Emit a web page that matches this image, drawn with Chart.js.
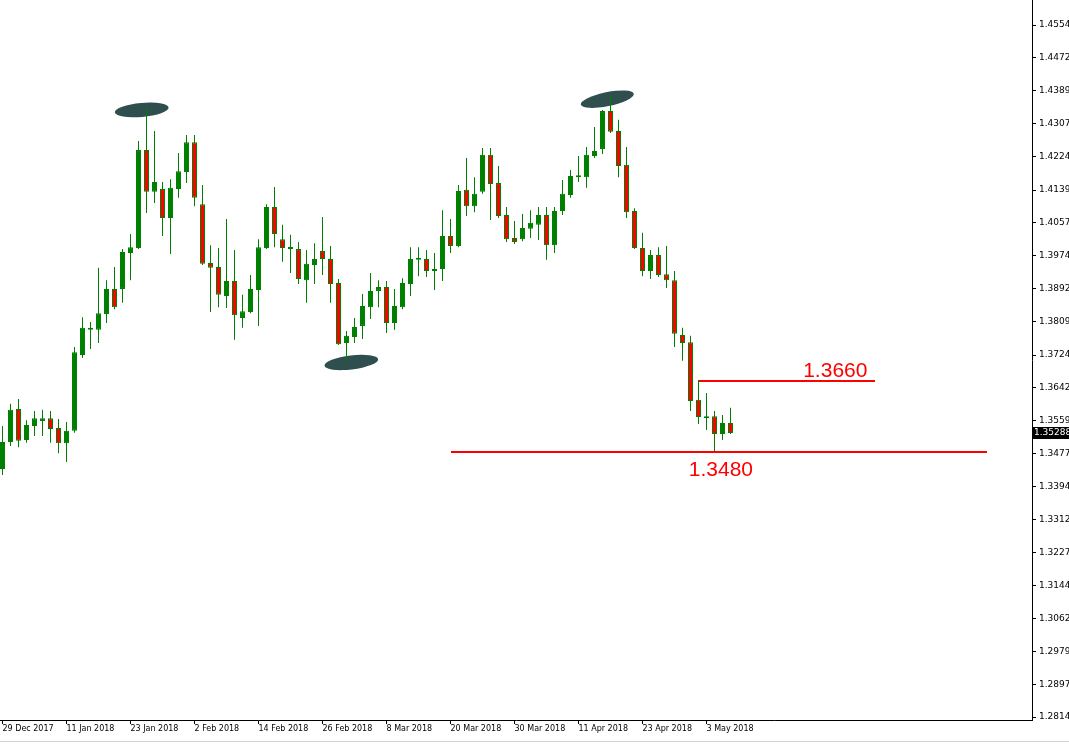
<!DOCTYPE html>
<html>
<head>
<meta charset="utf-8">
<title>Daily candles</title>
<script src="https://cdn.jsdelivr.net/npm/chart.js@4.4.1/dist/chart.umd.min.js"></script>
<style>
  html, body { margin: 0; padding: 0; background: #fff; }
  canvas { display: block; }
</style>
</head>
<body>
<canvas id="chart" width="1069" height="746"></canvas>
<script>
// daily OHLC, one entry per bar (29 Dec 2017 .. 8 May 2018)
const opens = [
  1.3438, 1.3506, 1.3589, 1.3511, 1.3546, 1.3559, 1.3566, 1.3541, 1.3503, 1.3534,
  1.3725, 1.3788, 1.3788, 1.3828, 1.3891, 1.3891, 1.3981, 1.3994, 1.4240, 1.4135,
  1.4142, 1.4069, 1.4142, 1.4185, 1.4260, 1.4104, 1.3956, 1.3946, 1.3873, 1.3911,
  1.3818, 1.3833, 1.3888, 1.3994, 1.4097, 1.4016, 1.3991, 1.3991, 1.3913, 1.3951,
  1.3986, 1.3966, 1.3906, 1.3755, 1.3770, 1.3798, 1.3845, 1.3886, 1.3896, 1.3805,
  1.3845, 1.3903, 1.3964, 1.3966, 1.3936, 1.3941, 1.4024, 1.3999, 1.4140, 1.4099,
  1.4135, 1.4228, 1.4157, 1.4077, 1.4019, 1.4016, 1.4042, 1.4052, 1.4077, 1.4001,
  1.4087, 1.4127, 1.4172, 1.4172, 1.4225, 1.4243, 1.4338, 1.4288, 1.4203, 1.4087,
  1.3994, 1.3936, 1.3976, 1.3928, 1.3913, 1.3775, 1.3757, 1.3612, 1.3566, 1.3571,
  1.3526, 1.3554
];
const highs = [
  1.3546, 1.3602, 1.3614, 1.3561, 1.3584, 1.3587, 1.3584, 1.3564, 1.3556, 1.3745,
  1.3820, 1.3808, 1.3944, 1.3913, 1.3946, 1.3991, 1.4029, 1.4263, 1.4346, 1.4288,
  1.4160, 1.4167, 1.4233, 1.4278, 1.4278, 1.4152, 1.4001, 1.3994, 1.4067, 1.3989,
  1.3876, 1.3926, 1.4016, 1.4104, 1.4147, 1.4052, 1.4027, 1.4009, 1.3989, 1.4006,
  1.4072, 1.3999, 1.3916, 1.3785, 1.3818, 1.3878, 1.3931, 1.3913, 1.3911, 1.3891,
  1.3918, 1.3996, 1.3996, 1.3989, 1.3981, 1.4089, 1.4067, 1.4152, 1.4220, 1.4172,
  1.4245, 1.4245, 1.4200, 1.4097, 1.4062, 1.4079, 1.4089, 1.4097, 1.4097, 1.4097,
  1.4165, 1.4190, 1.4225, 1.4248, 1.4298, 1.4341, 1.4379, 1.4316, 1.4248, 1.4094,
  1.4032, 1.3989, 1.3996, 1.3999, 1.3936, 1.3793, 1.3773, 1.3662, 1.3629, 1.3584,
  1.3574, 1.3592
];
const lows = [
  1.3423, 1.3496, 1.3493, 1.3504, 1.3521, 1.3521, 1.3504, 1.3478, 1.3456, 1.3529,
  1.3717, 1.3740, 1.3755, 1.3805, 1.3840, 1.3856, 1.3913, 1.3991, 1.4082, 1.4107,
  1.4024, 1.3979, 1.4120, 1.4157, 1.4099, 1.3951, 1.3833, 1.3845, 1.3843, 1.3763,
  1.3793, 1.3830, 1.3798, 1.3991, 1.3996, 1.3959, 1.3931, 1.3903, 1.3856, 1.3903,
  1.3926, 1.3856, 1.3750, 1.3710, 1.3755, 1.3765, 1.3815, 1.3845, 1.3780, 1.3788,
  1.3840, 1.3873, 1.3923, 1.3921, 1.3888, 1.3911, 1.3981, 1.3996, 1.4074, 1.4084,
  1.4130, 1.4064, 1.4069, 1.4009, 1.4004, 1.4011, 1.4019, 1.4014, 1.3964, 1.3981,
  1.4077, 1.4120, 1.4160, 1.4145, 1.4220, 1.4230, 1.4283, 1.4172, 1.4069, 1.3991,
  1.3923, 1.3916, 1.3921, 1.3893, 1.3745, 1.3710, 1.3584, 1.3551, 1.3536, 1.3482,
  1.3511, 1.3526
];
const closes = [
  1.3506, 1.3587, 1.3509, 1.3549, 1.3566, 1.3566, 1.3539, 1.3503, 1.3534, 1.3732,
  1.3793, 1.3793, 1.3830, 1.3891, 1.3845, 1.3984, 1.3996, 1.4240, 1.4135, 1.4160,
  1.4069, 1.4145, 1.4187, 1.4260, 1.4120, 1.3954, 1.3944, 1.3876, 1.3911, 1.3825,
  1.3835, 1.3891, 1.3996, 1.4097, 1.4029, 1.3994, 1.3996, 1.3916, 1.3954, 1.3966,
  1.3966, 1.3903, 1.3752, 1.3773, 1.3795, 1.3848, 1.3886, 1.3896, 1.3805, 1.3848,
  1.3906, 1.3966, 1.3967, 1.3936, 1.3941, 1.4024, 1.3999, 1.4137, 1.4099, 1.4130,
  1.4228, 1.4155, 1.4074, 1.4016, 1.4009, 1.4044, 1.4057, 1.4077, 1.4001, 1.4087,
  1.4130, 1.4175, 1.4175, 1.4228, 1.4238, 1.4338, 1.4286, 1.4200, 1.4084, 1.3994,
  1.3936, 1.3976, 1.3926, 1.3913, 1.3778, 1.3755, 1.3609, 1.3569, 1.3571, 1.3526,
  1.3554, 1.35288
];

// time axis: a label every 8 bars
const dateTicks = ['29 Dec 2017', '11 Jan 2018', '23 Jan 2018', '2 Feb 2018', '14 Feb 2018', '26 Feb 2018',
  '8 Mar 2018', '20 Mar 2018', '30 Mar 2018', '11 Apr 2018', '23 Apr 2018', '3 May 2018'];
const barsPerTick = 8;

// price axis labels
const priceTicks = [1.45545, 1.44720, 1.43895, 1.43070, 1.42245, 1.41395, 1.40570, 1.39745, 1.38920,
  1.38095, 1.37245, 1.36420, 1.35595, 1.34770, 1.33945, 1.33120, 1.32270, 1.31445, 1.30620,
  1.29795, 1.28970, 1.28145];

// drawn levels and their captions
const levelValues = [1.3480, 1.3660];
const levelLabels = ['1.3480', '1.3660'];

// ellipse marks: bar index and price of their centre
const markBars = [17.4, 43.6, 75.6];
const markPrices = [1.4341, 1.3706, 1.4368];

const BULL = '#008000';
const BEAR = '#ff0000';
const OUTLINE = '#008000';

const PX_PER_BAR = 8;
const PLOT_W = 1032;
const X_MIN = -2.5 / PX_PER_BAR;
const X_MAX = X_MIN + PLOT_W / PX_PER_BAR;

Chart.defaults.font.family = '"DejaVu Sans", sans-serif';
Chart.defaults.font.size = 8;
Chart.defaults.color = '#000';

const barIdx = opens.map((_, i) => i);
const bodyData = barIdx.map(i => ({ x: i, y: [opens[i], closes[i]] }));
const wickData = barIdx.map(i => ({ x: i, y: [lows[i], highs[i]] }));
const bodyFill = barIdx.map(i => (closes[i] >= opens[i] ? BULL : BEAR));

// where the level lines start/end and where captions sit (bar units)
const levelSpans = [[56.1, 123.1], [87.0, 109.1]];
const captionBars = [89.8, 104.1];
const captionOffsets = [24, -4];
const markTilts = [-0.09, -0.12, -0.2];

const overlays = {
    id: 'overlays',
    beforeDatasetsDraw(chart) {
        const { ctx, chartArea, scales: { x, y } } = chart;
        ctx.save();
        ctx.beginPath();
        ctx.rect(chartArea.left, chartArea.top, chartArea.width, chartArea.height);
        ctx.clip();
        ctx.fillStyle = '#2f4f4f';
        markBars.forEach((b, k) => {
            ctx.beginPath();
            ctx.ellipse(x.getPixelForValue(b), y.getPixelForValue(markPrices[k]), 27, 7, markTilts[k], 0, Math.PI * 2);
            ctx.fill();
        });
        ctx.restore();
    },
    afterDatasetsDraw(chart) {
        const { ctx, scales: { x, y } } = chart;
        ctx.save();
        ctx.strokeStyle = '#ff0000';
        ctx.fillStyle = '#ff0000';
        ctx.lineWidth = 2;
        ctx.font = '21px "Liberation Sans", Arial, sans-serif';
        ctx.textAlign = 'center';
        levelValues.forEach((v, k) => {
            const py = Math.round(y.getPixelForValue(v));
            ctx.beginPath();
            ctx.moveTo(Math.round(x.getPixelForValue(levelSpans[k][0])), py);
            ctx.lineTo(Math.round(x.getPixelForValue(levelSpans[k][1])), py);
            ctx.stroke();
            ctx.fillText(levelLabels[k], x.getPixelForValue(captionBars[k]), py + captionOffsets[k]);
        });
        ctx.restore();
    },
    afterDraw(chart) {
        const { ctx, chartArea, scales: { y } } = chart;
        const last = closes[closes.length - 1];
        const py = Math.round(y.getPixelForValue(last));
        ctx.save();
        ctx.fillStyle = '#000';
        ctx.fillRect(chartArea.right + 1, py - 6, 40, 12);
        ctx.fillStyle = '#fff';
        ctx.font = '9px "DejaVu Sans", sans-serif';
        ctx.textBaseline = 'middle';
        ctx.textAlign = 'left';
        ctx.fillText(last.toFixed(5), chartArea.right + 2, py);
        // window frame at the bottom
        ctx.fillStyle = '#d4d4d4';
        ctx.fillRect(0, 741, chart.width, 1);
        ctx.restore();
    }
};

new Chart(document.getElementById('chart'), {
    type: 'bar',
    data: {
        datasets: [
            {
                label: 'body',
                data: bodyData,
                backgroundColor: bodyFill,
                borderColor: OUTLINE,
                borderWidth: 1,
                borderSkipped: false,
                inflateAmount: 0,
                barThickness: 5,
                minBarLength: 2,
                grouped: false,
                order: 0
            },
            {
                label: 'wick',
                data: wickData,
                backgroundColor: OUTLINE,
                borderWidth: 0,
                inflateAmount: 0,
                barThickness: 1,
                grouped: false,
                order: 1
            }
        ]
    },
    options: {
        responsive: false,
        animation: false,
        events: [],
        layout: { padding: 0 },
        plugins: { legend: { display: false }, tooltip: { enabled: false } },
        scales: {
            x: {
                type: 'linear',
                min: X_MIN,
                max: X_MAX,
                offset: false,
                grid: { offset: false, drawOnChartArea: false, drawTicks: true, tickLength: 4, color: '#000' },
                border: { display: true, color: '#000', width: 1 },
                ticks: {
                    align: 'start',
                    padding: 0,
                    maxRotation: 0,
                    autoSkip: false,
                    callback: (v, i) => dateTicks[i]
                },
                afterBuildTicks: scale => {
                    scale.ticks = dateTicks.map((_, k) => ({ value: k * barsPerTick }));
                },
                afterFit: scale => {
                    scale.height = 26;
                    scale.paddingLeft = 0;
                    scale.paddingRight = 0;
                }
            },
            y: {
                position: 'right',
                min: 1.2807,
                max: 1.46174,
                beginAtZero: false,
                grid: { drawOnChartArea: false, drawTicks: true, tickLength: 4, color: '#000' },
                border: { display: true, color: '#000', width: 1 },
                ticks: {
                    padding: 3,
                    autoSkip: false,
                    font: { size: 9 },
                    callback: v => v.toFixed(5)
                },
                afterBuildTicks: scale => {
                    scale.ticks = priceTicks.map(v => ({ value: v }));
                },
                afterFit: scale => {
                    scale.width = 1069 - PLOT_W;
                    scale.paddingTop = 0;
                    scale.paddingBottom = 0;
                }
            }
        }
    },
    plugins: [overlays]
});
</script>
</body>
</html>
